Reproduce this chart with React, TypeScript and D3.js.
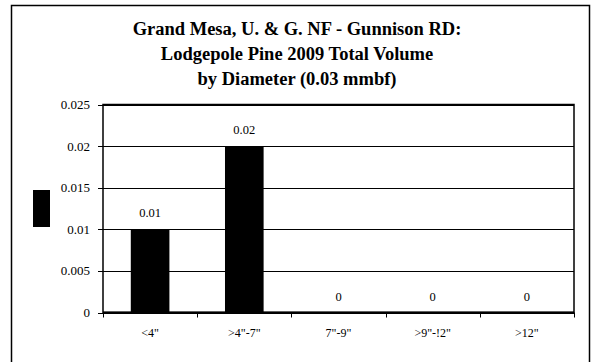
import React from "react";
import * as d3 from "d3";

const categories = ['<4"', '>4"-7"', '7"-9"', '>9"-12"', '>12"'];
const categoryLabels = ['<4"', '>4"-7"', '7"-9"', '>9"-!2"', '>12"'];
const values = [0.01, 0.02, 0, 0, 0];
const valueLabels = ["0.01", "0.02", "0", "0", "0"];
const yTicks = [0, 0.005, 0.01, 0.015, 0.02, 0.025];
const yTickLabels = ["0", "0.005", "0.01", "0.015", "0.02", "0.025"];
const titleLines = [
  "Grand Mesa, U. & G. NF - Gunnison RD:",
  "Lodgepole Pine 2009 Total Volume",
  "by Diameter (0.03 mmbf)",
];

export default function App() {
  const W = 591, H = 362;
  const left = 103, right = 574, top = 104.5, bottom = 312.5;
  const x = d3.scaleBand<string>().domain(categories).range([left, right]).paddingInner(0).paddingOuter(0);
  const y = d3.scaleLinear().domain([0, 0.025]).range([bottom, top]);
  const barW = x.bandwidth() * 0.41;
  const font = "Liberation Serif, DejaVu Serif, serif";
  return (
    <svg width={W} height={H} style={{ position: "absolute", left: 0, top: 0, background: "#fff", fontFamily: font }}>
      <rect x={0} y={0} width={W} height={H} fill="#fff" />
      <rect x={11.5} y={5.5} width={578} height={362} fill="none" stroke="#000" strokeWidth={1.5} />
      {titleLines.map((t, i) => (
        <text key={i} x={297} y={35 + i * 25} textAnchor="middle" fontSize={18.5} fontWeight="bold" style={{ fontFamily: font }}>{t}</text>
      ))}
      {yTicks.map((t, i) => (
        <g key={i}>
          <line x1={left} x2={right} y1={Math.round(y(t)) + 0.5} y2={Math.round(y(t)) + 0.5} stroke="#000" strokeWidth={1} />
          <line x1={left - 5} x2={left} y1={Math.round(y(t)) + 0.5} y2={Math.round(y(t)) + 0.5} stroke="#000" strokeWidth={1} />
          <text x={left - 13} y={y(t) + 4.5} textAnchor="end" fontSize={13} style={{ fontFamily: font }}>{yTickLabels[i]}</text>
        </g>
      ))}
      {categories.map((c, i) => (
        <g key={c}>
          <rect x={x(c)! + (x.bandwidth() - barW) / 2} y={y(values[i])} width={barW} height={bottom - y(values[i])} fill="#000" />
          <text x={x(c)! + x.bandwidth() / 2} y={y(values[i]) - 12} textAnchor="middle" fontSize={12.5} style={{ fontFamily: font }}>{valueLabels[i]}</text>
          <text x={x(c)! + x.bandwidth() / 2} y={bottom + 24} textAnchor="middle" fontSize={12} style={{ fontFamily: font }}>{categoryLabels[i]}</text>
        </g>
      ))}
      {[...categories.map((c) => x(c)!), right].map((v, i) => (
        <line key={i} x1={Math.round(v) + 0.5} x2={Math.round(v) + 0.5} y1={bottom} y2={bottom + 5} stroke="#000" />
      ))}
      <rect x={left} y={top} width={right - left} height={bottom - top} fill="none" stroke="#000" strokeWidth={1.5} />
      <line x1={left} x2={right} y1={bottom} y2={bottom} stroke="#000" strokeWidth={2} />
      <rect x={33} y={190} width={17} height={37} fill="#000" />
    </svg>
  );
}
